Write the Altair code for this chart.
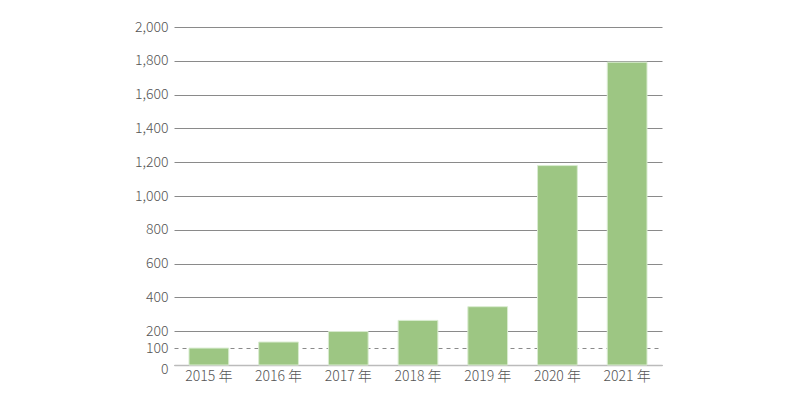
import altair as alt
import pandas as pd

years = ["2015 年", "2016 年", "2017 年", "2018 年", "2019 年", "2020 年", "2021 年"]
values = [100, 136, 198, 264, 345, 1180, 1792]
y_ticks = [0, 100, 200, 400, 600, 800, 1000, 1200, 1400, 1600, 1800, 2000]

df = pd.DataFrame({"year": years, "value": values})

FONT = "Noto Sans CJK JP"

bars = alt.Chart(df).mark_bar(
    color="#9dc683", stroke="#d9ecd0", strokeWidth=1
).encode(
    x=alt.X("year:N", sort=years, title=None,
            scale=alt.Scale(paddingInner=0.43, paddingOuter=0.215),
            axis=alt.Axis(labelAngle=0, ticks=False, domain=True, domainColor="#bbbbbb",
                          domainWidth=1.5, labelPadding=4, labelFontSize=14,
                          labelFontWeight=300,
                          labelColor="#555555", labelFont=FONT, grid=False)),
    y=alt.Y("value:Q", title=None,
            scale=alt.Scale(domain=[0, 2000], nice=False),
            axis=alt.Axis(values=y_ticks, format=",d", ticks=False, domain=False,
                          labelPadding=6, labelFontSize=14, labelFontWeight=300,
                          labelColor="#555555",
                          labelFont=FONT, grid=True, gridColor="#8a8a8a", gridWidth=1,
                          gridDash=alt.condition("datum.value == 100", alt.value([4, 4]), alt.value([])),
                          labelOffset=alt.condition("datum.value == 0", alt.value(4), alt.value(0)),
                          labelOverlap=False)),
)

chart = bars.properties(
    width=488, height=338,
    background="white",
    autosize=alt.AutoSizeParams(type="none"),
    padding={"left": 174, "top": 27, "right": 138, "bottom": 33},
).configure_view(stroke=None)

chart.save("out.html", embed_options={"renderer": "svg", "actions": False})
